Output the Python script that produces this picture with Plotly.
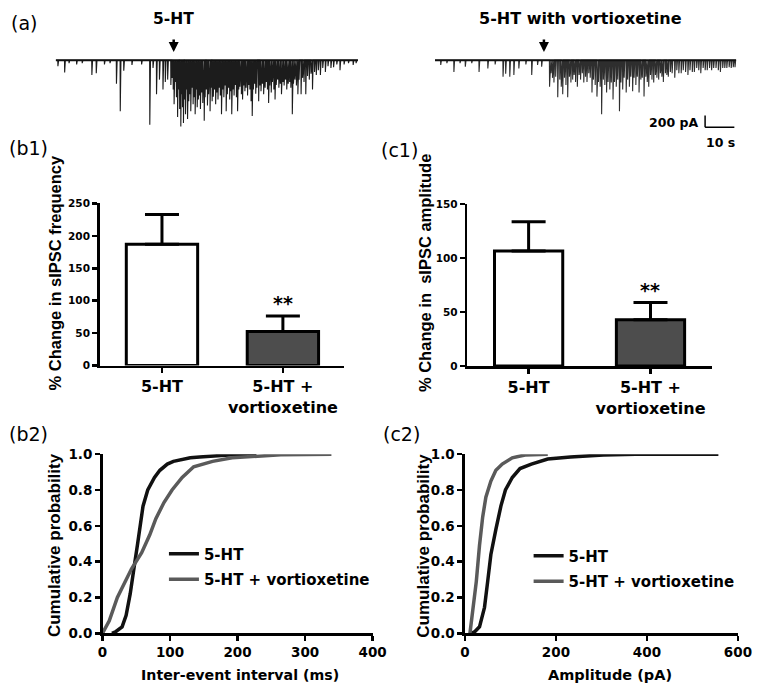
import plotly.graph_objects as go

W, H = 762, 696
def px(x): return x / W
def py(y): return 1 - y / H

# ---------------- data ----------------
# (a) example traces: spike times (s) and amplitudes (pA, inward = downward)
trace1_t = [0.7, 3.0, 4.5, 7.1, 9.0, 12.3, 13.8, 16.6, 18.5, 20.7, 22.0, 23.2, 26.0, 29.3, 32.1, 33.2,
            34.4, 35.4, 36.6, 37.4, 38.2,
            39.3, 39.7, 40.1, 40.4, 40.8, 41.2, 41.6, 41.9, 42.3, 42.7, 43.0, 43.3, 43.6, 44.0, 44.3,
            44.7, 45.0, 45.4, 45.8, 46.1, 46.5, 46.9, 47.2, 47.6, 48.0, 48.3, 48.7, 49.0, 49.4, 49.8,
            50.2, 50.7, 51.0, 51.4, 51.8, 52.2, 52.7, 53.0, 53.4, 53.8, 54.2, 54.6, 55.0, 55.4, 55.8,
            56.2, 56.6, 57.0, 57.4, 57.8, 58.2, 58.6, 59.0, 59.4, 59.8, 60.1, 60.5, 60.9, 61.3, 61.7,
            62.1, 62.5, 62.9, 63.4, 63.8, 64.2, 64.6, 65.0, 65.5, 65.9, 66.3, 66.7, 67.1, 67.5, 67.9,
            68.3, 68.7, 69.3, 69.7, 70.1, 70.6, 71.0, 71.5, 71.9, 72.3, 72.7, 73.1, 73.6, 74.0, 74.5,
            74.9, 75.3, 75.8, 76.2, 76.7, 77.1, 77.6, 78.0, 78.5, 78.9, 79.4, 79.9, 80.3, 80.8, 81.2,
            81.7, 82.2, 82.7, 83.1, 83.8, 84.3, 84.8, 85.4, 86.0, 86.6, 87.2, 87.7, 88.4, 89.0, 89.7,
            90.4, 91.2, 92.1, 93.0, 94.0, 94.9, 96.0, 97.1, 98.5, 100.0, 101.6, 102.6]
trace1_amp = [100, 210, 50, 70, 50, 250, 220, 70, 50, 400, 870, 180, 80, 70, 1100, 130,
              580, 330, 500, 370, 330,
              420, 300, 500, 750, 370, 630, 970, 500, 830, 1130, 580, 800, 1070, 670, 920,
              500, 1000, 700, 580, 870, 470, 750, 630, 920, 500, 800, 670, 600, 830, 550,
              730, 1030, 630, 500, 770, 580, 870, 470, 700, 620, 500, 750, 550, 670, 470,
              600, 920, 500, 630, 430, 870, 580, 470, 670, 530, 920, 500, 600, 420, 630,
              870, 500, 450, 580, 670, 430, 530, 470, 600, 420, 500, 700, 950, 500, 400,
              570, 470, 700, 430, 530, 400, 580, 470, 370, 500, 730, 430, 550, 370, 500,
              670, 420, 330, 470, 400, 580, 370, 430, 330, 500, 400, 370, 470, 920, 400,
              330, 430, 580, 330, 580, 300, 370, 580, 270, 330, 230, 500, 200, 250, 170,
              250, 130, 200, 100, 130, 120, 70, 170, 70, 50, 80, 50]
trace1_end = 103.3

trace2_t = [1.9, 4.0, 6.4, 8.5, 10.3, 12.5, 15.0, 18.0, 20.5, 23.2, 24.1, 25.5, 26.9, 28.6, 31.0, 33.0,
            35.0, 36.4,
            39.1, 39.6, 40.1, 40.6, 41.2, 41.9, 42.6, 43.1, 43.6, 44.2, 44.7, 45.3, 45.9, 46.4, 47.0,
            47.5, 48.0, 48.6, 49.2, 49.7, 50.3, 50.8, 51.4, 51.9, 52.5, 53.0, 53.6, 54.1, 54.7, 55.3,
            55.8, 56.4, 56.9, 57.5, 58.0, 58.6, 59.1, 59.7, 60.2, 60.8, 61.3, 61.9, 62.4, 63.0, 63.5,
            64.1, 64.6, 65.3, 65.8, 66.4, 66.9, 67.5, 68.0, 68.6, 69.1, 69.7, 70.3, 70.8, 71.4, 72.0,
            72.5, 73.0, 73.6, 74.1, 74.7, 75.3, 75.8, 76.4, 77.0, 77.5, 78.0, 78.7, 79.2, 79.7, 80.4,
            81.0, 81.9, 82.6, 83.3, 84.1, 84.8, 85.6, 86.4, 87.1, 87.9, 88.6, 89.4, 90.1, 90.8, 91.6,
            92.3, 93.0, 93.8, 94.5, 95.2, 96.0, 96.8, 97.5, 98.3, 99.0, 99.7, 100.5, 101.2, 101.9, 102.5]
trace2_amp = [80, 50, 200, 50, 110, 50, 200, 140, 70, 280, 230, 280, 250, 140, 70, 250,
              80, 110,
              450, 220, 300, 380, 280, 630, 330, 450, 580, 300, 420, 630, 280, 380, 330,
              250, 370, 450, 250, 330, 220, 380, 280, 370, 220, 300, 550, 330, 420, 620,
              370, 450, 920, 330, 420, 550, 370, 500, 380, 670, 370, 450, 330, 870, 380,
              500, 300, 550, 330, 450, 280, 530, 300, 420, 280, 550, 330, 300, 620, 280,
              370, 450, 250, 330, 380, 250, 300, 330, 220, 280, 370, 220, 250, 280, 200,
              220, 300, 170, 220, 220, 170, 200, 250, 170, 200, 200, 130, 170, 220, 130,
              170, 170, 130, 170, 130, 130, 170, 200, 130, 130, 130, 120, 130, 120, 120]
trace2_end = 103.0

# (b1)/(c1) bar charts
groups = ["5-HT", "5-HT +<br>vortioxetine"]
freq_mean = [187, 52.7]
freq_sem = [46, 23.7]
amp_mean = [106.6, 42.8]
amp_sem = [27, 16]

# (b2) cumulative inter-event interval (ms)
iei_5ht_x = [14, 20, 29, 35, 41, 45, 48, 52, 55, 60, 67, 72, 77, 85, 96, 105, 115, 130, 144, 170, 192, 228]
iei_5ht_y = [0, 0.01, 0.036, 0.1, 0.22, 0.31, 0.4, 0.5, 0.58, 0.71, 0.8, 0.84, 0.87, 0.91, 0.945, 0.96,
             0.97, 0.98, 0.985, 0.993, 0.997, 1.0]
iei_vort_x = [0, 10, 22, 34, 43, 58, 70, 79, 91, 103, 118, 135, 163, 192, 231, 264, 339]
iei_vort_y = [0, 0.07, 0.2, 0.29, 0.36, 0.45, 0.55, 0.64, 0.73, 0.8, 0.87, 0.93, 0.96, 0.98, 0.99, 0.997, 1.0]

# (c2) cumulative amplitude (pA)
amp_5ht_x = [14, 22, 32, 43, 50, 57, 68, 79, 89, 104, 121, 146, 182, 232, 304, 375, 557]
amp_5ht_y = [0, 0.01, 0.036, 0.145, 0.29, 0.44, 0.58, 0.71, 0.8, 0.87, 0.92, 0.945, 0.973, 0.985, 0.996, 1.0, 1.0]
amp_vort_x = [11, 18, 25, 32, 39, 46, 57, 68, 82, 104, 132, 182]
amp_vort_y = [0, 0.145, 0.29, 0.49, 0.65, 0.76, 0.85, 0.91, 0.945, 0.98, 0.996, 1.0]

BLACK = "#111111"
GREY = "#5a5a5a"
BOLD = dict(family="DejaVu Sans", weight="bold", color="black")

fig = go.Figure()

# ---------------- (a) traces ----------------
def spike_path(ts, amps, t_end):
    xs, ys = [0], [0]
    for t, a in zip(ts, amps):
        xs += [t, t + 0.06, t + 0.3]
        ys += [0, -a, 0]
    xs.append(t_end)
    ys.append(0)
    return xs, ys

for ts, amps, tend, xa, ya, col in [(trace1_t, trace1_amp, trace1_end, "x", "y", "#1c1c1c"),
                                    (trace2_t, trace2_amp, trace2_end, "x2", "y2", "#2e2e2e")]:
    xs, ys = spike_path(ts, amps, tend)
    fig.add_trace(go.Scatter(x=xs, y=ys, mode="lines", line=dict(color=col, width=1.1),
                             xaxis=xa, yaxis=ya, showlegend=False, hoverinfo="skip"))
    fig.add_trace(go.Scatter(x=[0, tend], y=[0, 0], mode="lines", line=dict(color="#111", width=2.2),
                             xaxis=xa, yaxis=ya, showlegend=False, hoverinfo="skip"))

# ---------------- bars ----------------
for mean, sem, xa, ya, bw in [(freq_mean, freq_sem, "x3", "y3", 0.59), (amp_mean, amp_sem, "x4", "y4", 0.56)]:
    fig.add_trace(go.Bar(x=groups, y=mean, width=bw,
                         marker=dict(color=["white", "#4d4d4d"], line=dict(color="black", width=3)),
                         error_y=dict(type="data", symmetric=False, array=sem, arrayminus=[0, 0],
                                      thickness=3, width=17, color="black"),
                         xaxis=xa, yaxis=ya, showlegend=False))

# ---------------- cumulative ----------------
fig.add_trace(go.Scatter(x=iei_5ht_x, y=iei_5ht_y, mode="lines", name="5-HT",
                         line=dict(color=BLACK, width=3.5), xaxis="x5", yaxis="y5",
                         legend="legend", legendgroup="a"))
fig.add_trace(go.Scatter(x=iei_vort_x, y=iei_vort_y, mode="lines", name="5-HT + vortioxetine",
                         line=dict(color=GREY, width=3.5), xaxis="x5", yaxis="y5",
                         legend="legend", legendgroup="b"))
fig.add_trace(go.Scatter(x=amp_5ht_x, y=amp_5ht_y, mode="lines", name="5-HT",
                         line=dict(color=BLACK, width=3.5), xaxis="x6", yaxis="y6",
                         legend="legend2", legendgroup="c"))
fig.add_trace(go.Scatter(x=amp_vort_x, y=amp_vort_y, mode="lines", name="5-HT + vortioxetine",
                         line=dict(color=GREY, width=3.5), xaxis="x6", yaxis="y6",
                         legend="legend2", legendgroup="d"))

# ---------------- axes ----------------
hidden = dict(visible=False, showgrid=False, zeroline=False, fixedrange=True)
trace_ydom = [py(135), py(30)]
trace_yrange = [-(135 - 53.5) * 16.67, (53.5 - 30) * 16.67]
AX = dict(showline=True, linewidth=2.5, linecolor="black", ticks="outside", ticklen=5, tickwidth=2.5,
          tickcolor="black", showgrid=False, zeroline=False)

def bar_y(dom, rng, dt, anchor):
    return dict(domain=dom, range=rng, dtick=dt, tick0=0, anchor=anchor, tickprefix="<b>", ticksuffix="</b>",
                tickfont=dict(size=10.5, **BOLD), **AX)

def bar_x(dom, rng, anchor):
    return dict(domain=dom, range=rng, anchor=anchor, tickfont=dict(size=16, **BOLD), **AX)

def cum_x(dom, rng, dt, anchor):
    return dict(domain=dom, range=rng, dtick=dt, tick0=0, anchor=anchor, tickprefix="<b>", ticksuffix="</b>",
                tickfont=dict(size=13.5, **BOLD), **AX)

def cum_y(dom, anchor):
    return dict(domain=dom, range=[0, 1], dtick=0.2, tick0=0, tickformat=".1f", anchor=anchor,
                tickprefix="<b>", ticksuffix="</b>", tickfont=dict(size=13.5, **BOLD), **AX)

fig.update_layout(
    width=W, height=H, margin=dict(l=0, r=0, t=0, b=0),
    paper_bgcolor="white", plot_bgcolor="white",
    bargap=0,
    xaxis=dict(domain=[px(52), px(362)], range=[0, 103.3], anchor="y", **hidden),
    yaxis=dict(domain=trace_ydom, range=trace_yrange, anchor="x", **hidden),
    xaxis2=dict(domain=[px(441), px(750)], range=[0, 103.0], anchor="y2", **hidden),
    yaxis2=dict(domain=trace_ydom, range=trace_yrange, anchor="x2", **hidden),
    xaxis3=bar_x([px(97), px(348)], [-0.516, 1.508], "y3"),
    yaxis3=bar_y([py(366), py(200)], [0, 250], 50, "x3"),
    xaxis4=bar_x([px(474), px(725)], [-0.504, 1.504], "y4"),
    yaxis4=bar_y([py(366.5), py(200.7)], [0, 150], 50, "x4"),
    xaxis5=cum_x([px(100), px(377)], [0, 400], 100, "y5"),
    yaxis5=cum_y([py(640), py(456.7)], "x5"),
    xaxis6=cum_x([px(471.7), px(751.7)], [0, 600], 200, "y6"),
    yaxis6=cum_y([py(640), py(456.7)], "x6"),
    legend=dict(x=px(163), y=py(542), xanchor="left", yanchor="top", bgcolor="rgba(0,0,0,0)",
                font=dict(size=15, **BOLD), tracegroupgap=3, itemwidth=30),
    legend2=dict(x=px(537), y=py(544), xanchor="left", yanchor="top", bgcolor="rgba(0,0,0,0)",
                 font=dict(size=15, **BOLD), tracegroupgap=3, itemwidth=30),
)

# scale bar (in trace-2 axis units: 10 s, 200 pA)
sb_t0 = (718 - 441) / 3
sb_y0 = -(122 - 53.5) * 16.67
fig.add_shape(type="line", xref="x2", yref="y2", x0=sb_t0, x1=sb_t0, y0=sb_y0, y1=sb_y0 + 200,
              line=dict(color="black", width=1.5))
fig.add_shape(type="line", xref="x2", yref="y2", x0=sb_t0, x1=sb_t0 + 10, y0=sb_y0, y1=sb_y0,
              line=dict(color="black", width=1.5))

ann = []
def text(x, y, s, size, xanchor="center", family="DejaVu Sans", weight="normal", angle=0):
    ann.append(dict(x=px(x), y=py(y), xref="paper", yref="paper", text=s, showarrow=False,
                    xanchor=xanchor, yanchor="middle", textangle=angle,
                    font=dict(family=family, size=size, color="black", weight=weight)))

# panel labels
text(4, 15, "(a)", 19, "left")
text(2, 143, "(b1)", 19, "left")
text(384, 145, "(c1)", 19, "left")
text(2, 436, "(b2)", 19, "left")
text(386, 436, "(c2)", 19, "left")
# trace titles
text(173, 11, "5-HT", 15.5, weight="bold")
text(590, 11, "5-HT with vortioxetine", 16, weight="bold")
text(713, 117, "200 pA", 12.5, "right", weight="bold")
text(734, 138, "10 s", 12.5, weight="bold")
# axis titles
text(51, 271, "% Change in sIPSC frequency", 16.5, family="Liberation Sans", weight="bold", angle=-90)
text(430, 271, "% Change in  sIPSC amplitude", 16.5, family="Liberation Sans", weight="bold", angle=-90)
text(51, 550, "Cumulative probability", 17, family="Liberation Sans", weight="bold", angle=-90)
text(429, 550, "Cumulative probability", 17, family="Liberation Sans", weight="bold", angle=-90)
text(241, 683, "Inter-event interval (ms)", 14.2, weight="bold")
text(620, 683, "Amplitude (pA)", 14.5, weight="bold")

# arrows
for x in [173, 552.7]:
    ann.append(dict(x=px(x), y=py(45), xref="paper", yref="paper", ax=0, ay=-14, axref="pixel",
                    ayref="pixel", text="", showarrow=True, arrowhead=2, arrowsize=0.8, arrowwidth=2.5,
                    arrowcolor="black"))

# significance stars
for xa, ya, mean, sem in [("x3", "y3", freq_mean, freq_sem), ("x4", "y4", amp_mean, amp_sem)]:
    ann.append(dict(x=groups[1], y=mean[1] + sem[1], xref=xa, yref=ya, text="**", showarrow=False,
                    yanchor="bottom", yshift=0, font=dict(family="DejaVu Sans", size=19, weight="bold",
                                                           color="black")))

fig.update_layout(annotations=ann)
fig.write_html(
    "out.html",
    config={"displayModeBar": False, "staticPlot": True},
    post_script=("var d=document.getElementById('{plot_id}');"
                 "d.style.position='fixed';d.style.left='0px';d.style.top='0px';"
                 "document.body.style.margin='0';document.body.style.padding='0';"
                 "document.body.style.overflow='hidden';"
                 "document.documentElement.style.overflow='hidden';"),
)
